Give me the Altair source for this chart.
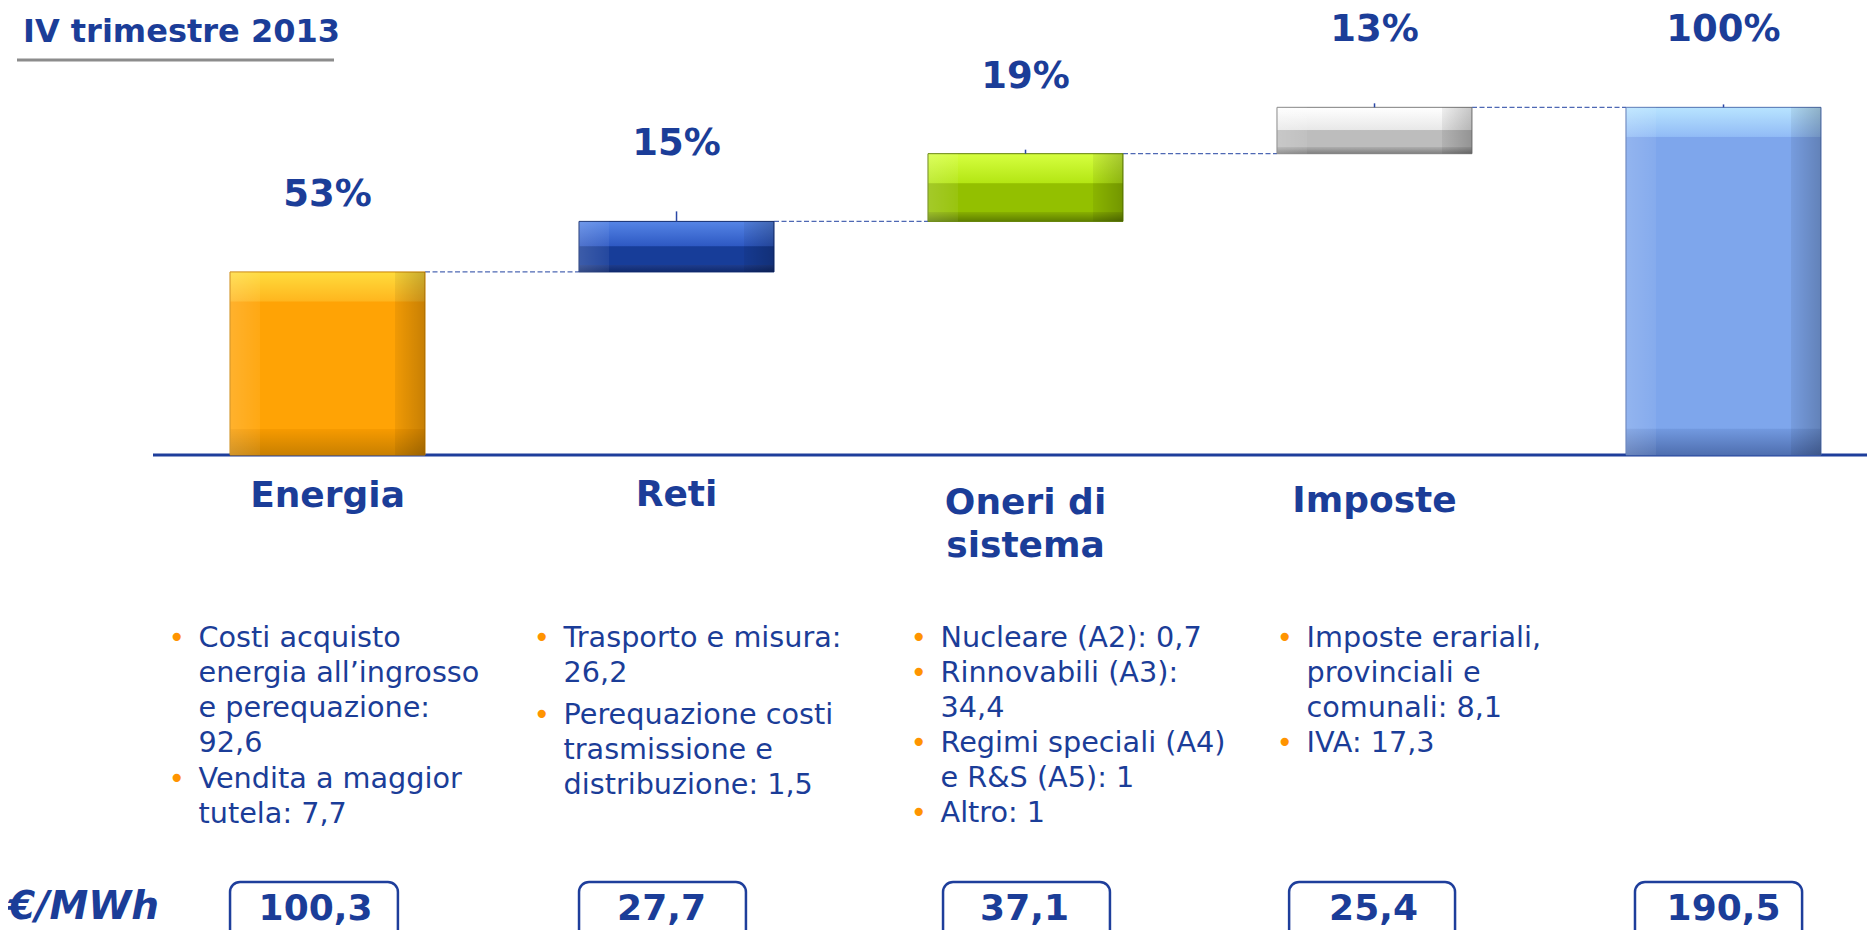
import altair as alt
import pandas as pd

# ---------------- data ----------------
cat_ids = ["Energia", "Reti", "Oneri", "Imposte", "Totale"]
cat_labels = ["Energia", "Reti", "Oneri di\nsistema", "Imposte", ""]
component_values = [100.3, 27.7, 37.1, 25.4]
total_value = 190.5
box_values = [100.3, 27.7, 37.1, 25.4, 190.5]
tick_lengths = [0.0, 5.5, 2.2, 2.2, 1.6]

bullets_energia = [["Costi acquisto", "energia all\u2019ingrosso", "e perequazione:", "92,6"],
                   ["Vendita a maggior", "tutela: 7,7"]]
bullets_reti = [["Trasporto e misura:", "26,2"],
                ["Perequazione costi", "trasmissione e", "distribuzione: 1,5"]]
bullets_oneri = [["Nucleare (A2): 0,7"],
                 ["Rinnovabili (A3):", "34,4"],
                 ["Regimi speciali (A4)", "e R&S (A5): 1"],
                 ["Altro: 1"]]
bullets_imposte = [["Imposte erariali,", "provinciali e", "comunali: 8,1"],
                   ["IVA: 17,3"]]

title_text = "IV trimestre 2013"
unit_text = "\u20ac/MWh"

# ---------------- styles / layout ----------------
FONT = "DejaVu Sans"
TXT = "#1B3D98"
W, H = 1859, 922
K = 1.825           # px per €/MWh
BASE_PY = 447       # pixel of zero line
LINE_H = 35
FIRST_LINE_PY = 639

bar_styles = {
    "Energia": dict(light="#FFDC3C", mid="#FFB61E", main="#FFA305", bottom="#F69A00", edge="#C98000"),
    "Reti": dict(light="#5585E6", mid="#2E59C3", main="#173D99", bottom="#1E3C8C", edge="#0F2A6E"),
    "Oneri": dict(light="#D6FF40", mid="#B4E614", main="#93C000", bottom="#88B000", edge="#5F7F00"),
    "Imposte": dict(light="#FFFFFF", mid="#E8E8E8", main="#BDBDBD", bottom="#ADADAD", edge="#7F7F7F"),
    "Totale": dict(light="#B8E4FF", mid="#92BCF6", main="#7EA6EC", bottom="#7299DF", edge="#4F6FB0"),
}
text_dx = {"Energia": -129, "Reti": -113, "Oneri": -85, "Imposte": -68}
para_gap = {"Energia": 0.03, "Reti": 0.2, "Oneri": 0.0, "Imposte": 0.0}
label_dy = {"Energia": 52, "Reti": 51, "Oneri": 59, "Imposte": 57, "Totale": 57}
# box extent as fractions of the bar band, and value-text offsets
box_band = {"Energia": (0.0, 0.861), "Reti": (0.0, 0.856), "Oneri": (0.077, 0.933),
            "Imposte": (0.062, 0.913), "Totale": (0.046, 0.903)}
box_text_dx = {"Energia": -12, "Reti": -15, "Oneri": -1, "Imposte": -1, "Totale": 0}

# ---------------- tables ----------------
starts, ends = [], []
acc = 0.0
for v in component_values:
    starts.append(round(acc, 1))
    acc += v
    ends.append(round(acc, 1))
starts.append(0.0)
ends.append(total_value)

pcts = [round(v / total_value * 100) for v in component_values] + [100]
bars = pd.DataFrame({
    "cat": cat_ids,
    "label": cat_labels,
    "start": starts,
    "end": ends,
    "pct": [f"{p}%" for p in pcts],
    "box": [f"{v:.1f}".replace(".", ",") for v in box_values],
    "zero": [0.0] * 5,
})
bars["tick_end"] = [e + t for e, t in zip(ends, tick_lengths)]
ticks = bars[bars["tick_end"] > bars["end"]]

conn = pd.DataFrame({
    "cat": cat_ids[:-1],
    "nxt": cat_ids[1:],
    "level": ends[:-1],
})

xscale = alt.Scale(domain=cat_ids, paddingInner=0.4413, paddingOuter=0.384, align=0.8284)
yscale = alt.Scale(domain=[-(H - BASE_PY) / K, BASE_PY / K], nice=False, zero=False)
X = alt.X("cat:N", scale=xscale, axis=None, sort=cat_ids)
Y = lambda f: alt.Y(f, type="quantitative", scale=yscale, axis=None)

# zero line
base_rule = alt.Chart(pd.DataFrame({"zero": [0.0]})).mark_rule(
    color="#1E3E9B", strokeWidth=3
).encode(x=alt.value(145), x2=alt.value(W), y=Y("zero"))

# connectors
connectors = alt.Chart(conn).mark_rule(
    color="#4E68B4", strokeWidth=1.2, strokeDash=[5, 2.5]
).encode(
    x=alt.X("cat:N", scale=xscale, axis=None, bandPosition=1),
    x2=alt.X2("nxt:N", bandPosition=0),
    y=Y("level"),
)

bar_layers = []
box_layers = []
label_layers = []
for i, c in enumerate(cat_ids):
    st = bar_styles[c]
    h = abs(ends[i] - starts[i]) * K
    t = min(30.0, 0.5 * h) / h
    b = min(26.0, 0.14 * h) / h
    vgrad = alt.Gradient(
        gradient="linear", x1=0, x2=0, y1=0, y2=1,
        stops=[
            alt.GradientStop(color=st["light"], offset=0),
            alt.GradientStop(color=st["mid"], offset=t * 0.97),
            alt.GradientStop(color=st["main"], offset=t),
            alt.GradientStop(color=st["main"], offset=1 - b - 0.002),
            alt.GradientStop(color=st["bottom"], offset=1 - b),
            alt.GradientStop(color=st["edge"], offset=1),
        ],
    )
    s = 30.0 / 195.0
    hgrad = alt.Gradient(
        gradient="linear", x1=0, x2=1, y1=0, y2=0,
        stops=[
            alt.GradientStop(color="rgba(255,255,255,0.16)", offset=0),
            alt.GradientStop(color="rgba(255,255,255,0.06)", offset=s),
            alt.GradientStop(color="rgba(255,255,255,0)", offset=s + 0.002),
            alt.GradientStop(color="rgba(0,0,0,0)", offset=1 - s - 0.002),
            alt.GradientStop(color="rgba(0,0,0,0.06)", offset=1 - s),
            alt.GradientStop(color="rgba(0,0,0,0.22)", offset=1),
        ],
    )
    base = alt.Chart(bars).transform_filter(alt.datum.cat == c)
    bar_layers.append(
        base.mark_bar(fill=vgrad, stroke=st["edge"], strokeWidth=1).encode(
            x=X, y=Y("start"), y2=alt.Y2("end"))
    )
    bar_layers.append(
        base.mark_bar(fill=hgrad).encode(x=X, y=Y("start"), y2=alt.Y2("end"))
    )
    # value box below
    b0, b1 = box_band[c]
    box_layers.append(
        base.mark_rect(cornerRadius=10, fill="white", stroke="#1E3E9B", strokeWidth=2.5).encode(
            x=alt.X("cat:N", scale=xscale, axis=None, bandPosition=b0),
            x2=alt.X2("cat:N", bandPosition=b1),
            y=alt.value(874), y2=alt.value(950))
    )
    box_layers.append(
        base.mark_text(font=FONT, fontWeight="bold", fontSize=36, color=TXT,
                       baseline="alphabetic", dx=box_text_dx[c]).encode(
            x=X, y=alt.value(912), text="box:N")
    )
    # category label
    label_layers.append(
        base.mark_text(font=FONT, fontWeight="bold", fontSize=36, color=TXT,
                       baseline="alphabetic", dy=label_dy[c], lineBreak="\n",
                       lineHeight=43).encode(x=X, y=Y("zero"), text="label:N")
    )

tick_marks = alt.Chart(ticks).mark_rule(color="#2A47A6", strokeWidth=1.5).encode(
    x=X, y=Y("end"), y2=alt.Y2("tick_end"))

pct_text = alt.Chart(bars).mark_text(
    font=FONT, fontWeight="bold", fontSize=37, color=TXT, baseline="middle", dy=-77
).encode(x=X, y=Y("end"), text="pct:N")

title = alt.Chart(pd.DataFrame({"t": [title_text]})).mark_text(
    font=FONT, fontWeight="bold", fontSize=32, color=TXT, align="left", baseline="alphabetic"
).encode(x=alt.value(15), y=alt.value(34), text="t:N")

title_line = alt.Chart(pd.DataFrame({"t": [title_text]})).mark_rule(
    color="#8C8C8C", strokeWidth=3
).encode(x=alt.value(9), x2=alt.value(326), y=alt.value(52))

unit = alt.Chart(pd.DataFrame({"t": [unit_text]})).mark_text(
    font=FONT, fontWeight="bold", fontStyle="italic", fontSize=39, color=TXT,
    align="left", baseline="alphabetic"
).encode(x=alt.value(0), y=alt.value(911), text="t:N")

main_layer = alt.layer(
    base_rule, connectors, *bar_layers, tick_marks, pct_text, *label_layers,
    *box_layers, title, title_line, unit
)

# ---------------- bullet text ----------------
rows = []
for c, paras in zip(cat_ids[:4], [bullets_energia, bullets_reti, bullets_oneri, bullets_imposte]):
    line = 0.0
    for k, p in enumerate(paras):
        rows.append({"cat": c, "start": line + k * para_gap[c], "text": "\n".join(p)})
        line += len(p)
bul = pd.DataFrame(rows)

d0 = -FIRST_LINE_PY / LINE_H
tscale = alt.Scale(domain=[d0, d0 + H / LINE_H], reverse=True, nice=False, zero=False)
TY = alt.Y("start:Q", scale=tscale, axis=None)

bullet_layers = []
for c in cat_ids[:4]:
    src = alt.Chart(bul).transform_filter(alt.datum.cat == c)
    bullet_layers.append(src.mark_text(
        font=FONT, fontSize=28.7, color=TXT, align="left", baseline="alphabetic",
        lineBreak="\n", lineHeight=LINE_H, dx=text_dx[c]
    ).encode(x=X, y=TY, text="text:N"))
    bullet_layers.append(src.mark_text(
        font=FONT, fontSize=28, color="#FF9400", align="left", baseline="alphabetic",
        dx=text_dx[c] - 30
    ).encode(x=X, y=TY, text=alt.value("\u2022")))

text_layer = alt.layer(*bullet_layers)

chart = alt.layer(main_layer, text_layer).resolve_scale(y="independent").properties(
    width=W, height=H, padding=0, autosize="none"
).configure_view(stroke=None)

chart.save("out.html", embed_options={"renderer": "svg", "actions": False})
